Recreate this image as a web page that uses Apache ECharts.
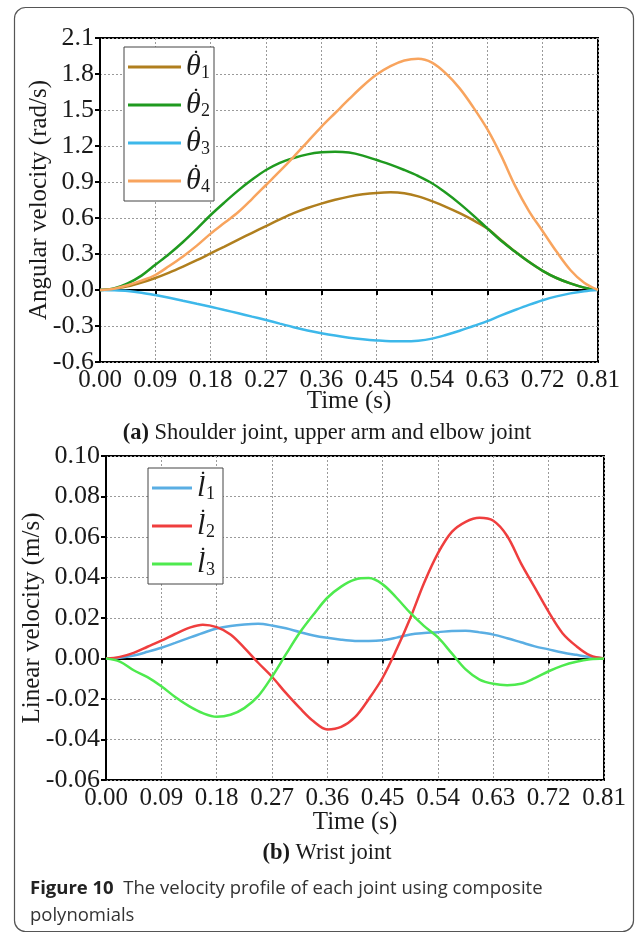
<!DOCTYPE html>
<html><head><meta charset="utf-8">
<script src="https://cdn.jsdelivr.net/npm/echarts@6/dist/echarts.min.js"></script>
<style>html,body{margin:0;padding:0;background:#fff}#c{width:640px;height:935px}</style>
</head><body><div id="c"></div>
<script>
// Time samples (s)
const time = [0, 0.0225, 0.045, 0.0675, 0.09, 0.1125, 0.135, 0.1575, 0.18, 0.2025, 0.225, 0.2475, 0.27, 0.2925, 0.315, 0.3375, 0.36, 0.3825, 0.405, 0.4275, 0.45, 0.4725, 0.495, 0.5175, 0.54, 0.5625, 0.585, 0.6075, 0.63, 0.6525, 0.675, 0.6975, 0.72, 0.7425, 0.765, 0.7875, 0.81];
// (a) Angular velocity (rad/s)
const theta1 = [0, 0.008, 0.030, 0.062, 0.100, 0.145, 0.195, 0.248, 0.305, 0.362, 0.42, 0.477, 0.533, 0.588, 0.64, 0.683, 0.72, 0.752, 0.778, 0.797, 0.809, 0.814, 0.806, 0.78, 0.74, 0.693, 0.64, 0.58, 0.512, 0.415, 0.32, 0.235, 0.16, 0.10, 0.055, 0.02, 0];
const theta2 = [0, 0.012, 0.055, 0.12, 0.21, 0.30, 0.40, 0.51, 0.625, 0.73, 0.83, 0.92, 1.0, 1.06, 1.10, 1.13, 1.147, 1.152, 1.145, 1.12, 1.083, 1.045, 1.0, 0.95, 0.89, 0.81, 0.72, 0.62, 0.514, 0.41, 0.32, 0.235, 0.16, 0.10, 0.055, 0.02, 0];
const theta3 = [0, -0.002, -0.008, -0.022, -0.042, -0.065, -0.09, -0.115, -0.14, -0.167, -0.194, -0.222, -0.25, -0.28, -0.31, -0.337, -0.36, -0.38, -0.397, -0.41, -0.42, -0.427, -0.428, -0.422, -0.405, -0.375, -0.34, -0.30, -0.26, -0.212, -0.167, -0.124, -0.085, -0.053, -0.028, -0.01, 0];
const theta4 = [0, 0.01, 0.04, 0.078, 0.125, 0.20, 0.28, 0.37, 0.47, 0.56, 0.65, 0.76, 0.875, 0.99, 1.11, 1.235, 1.36, 1.475, 1.59, 1.70, 1.795, 1.865, 1.912, 1.927, 1.895, 1.805, 1.68, 1.52, 1.34, 1.12, 0.87, 0.66, 0.49, 0.32, 0.167, 0.06, 0];
// (b) Linear velocity (m/s)
const l1 = [0, 0.0004, 0.0015, 0.0033, 0.0053, 0.0077, 0.0102, 0.0126, 0.0148, 0.0161, 0.0168, 0.0171, 0.0163, 0.0149, 0.0131, 0.0114, 0.0102, 0.0093, 0.0087, 0.0086, 0.009, 0.0103, 0.0119, 0.0126, 0.013, 0.0136, 0.0137, 0.0129, 0.0118, 0.0100, 0.008, 0.006, 0.0045, 0.003, 0.0018, 0.0007, 0];
const l2 = [0, 0.0008, 0.0028, 0.0058, 0.0088, 0.0121, 0.0151, 0.0167, 0.0155, 0.0119, 0.0053, -0.0021, -0.009, -0.017, -0.0244, -0.031, -0.035, -0.0338, -0.029, -0.020, -0.0095, 0.0044, 0.020, 0.0374, 0.052, 0.0625, 0.0675, 0.0695, 0.068, 0.0605, 0.047, 0.035, 0.023, 0.0125, 0.0061, 0.0015, 0];
const l3 = [0, -0.0015, -0.0058, -0.0092, -0.0137, -0.019, -0.0235, -0.027, -0.0288, -0.0278, -0.0245, -0.0186, -0.009, 0.002, 0.0127, 0.0217, 0.030, 0.0355, 0.039, 0.0397, 0.0366, 0.030, 0.0225, 0.016, 0.0104, 0.0025, -0.0054, -0.0104, -0.0125, -0.0132, -0.0125, -0.0097, -0.0063, -0.0035, -0.0016, -0.0004, 0];

const namesA = ['theta1', 'theta2', 'theta3', 'theta4'];
const namesB = ['l1', 'l2', 'l3'];
const colorsA = ['#B07F1E', '#1F9A1F', '#3DB8EA', '#F8A45E'];
const colorsB = ['#5AAEE3', '#EF3E3E', '#4EEA4E'];
const xTitle = 'Time (s)';
const yTitleA = 'Angular velocity (rad/s)';
const yTitleB = 'Linear velocity (m/s)';
const capA = 'Shoulder joint, upper arm and elbow joint';
const capB = 'Wrist joint';

const SERIF = '"Liberation Serif", "Times New Roman", serif';
const SANS = '"Open Sans", "Noto Sans", sans-serif';
const TXT = '#1a1a1a';
const SMOOTH = 0.35;

function pairs(arr) { return time.map((t, i) => [t, arr[i]]); }

function xAxis(gi, gap) {
  return {
    type: 'value', gridIndex: gi, min: 0, max: 0.81, interval: 0.09,
    name: xTitle, nameLocation: 'middle', nameGap: gap, nameMoveOverlap: false,
    nameTextStyle: { fontFamily: SERIF, fontSize: 25, color: TXT },
    axisLine: { show: true, lineStyle: { color: '#000', width: 2 } },
    axisTick: { show: true, inside: false, length: 5, lineStyle: { color: '#000', width: 2 } },
    axisLabel: { fontFamily: SERIF, fontSize: 25, color: TXT, margin: 6, showMinLabel: true, showMaxLabel: true, hideOverlap: false,
      formatter: v => (Math.abs(v) < 1e-9 ? 0 : v).toFixed(2) },
    splitLine: { show: true, lineStyle: { color: '#9a9a9a', type: [2, 2], width: 1 } }
  };
}
function yAxis(gi, min, max, iv, dec, name, gap) {
  return {
    type: 'value', gridIndex: gi, min: min, max: max, interval: iv,
    name: name, nameLocation: 'middle', nameGap: gap, nameRotate: 90, nameMoveOverlap: false,
    nameTextStyle: { fontFamily: SERIF, fontSize: 25, color: TXT },
    axisLine: { show: true, lineStyle: { color: '#000', width: 2 } },
    axisTick: { show: true, inside: false, length: 5, lineStyle: { color: '#000', width: 2 } },
    axisLabel: { fontFamily: SERIF, fontSize: 26, color: TXT, margin: 6, showMinLabel: true, showMaxLabel: true,
      formatter: v => (Math.abs(v) < 1e-9 ? 0 : v).toFixed(dec) },
    splitLine: { show: true, lineStyle: { color: '#9a9a9a', type: [2, 2], width: 1 } }
  };
}

const series = [];
[theta1, theta2, theta3, theta4].forEach((d, i) => series.push({
  name: namesA[i], type: 'line', xAxisIndex: 0, yAxisIndex: 0, data: pairs(d), smooth: SMOOTH,
  symbol: 'none', lineStyle: { width: 2.5, color: colorsA[i] }, itemStyle: { color: colorsA[i] }
}));
[l1, l2, l3].forEach((d, i) => series.push({
  name: namesB[i], type: 'line', xAxisIndex: 1, yAxisIndex: 1, data: pairs(d), smooth: SMOOTH,
  symbol: 'none', lineStyle: { width: 2.5, color: colorsB[i] }, itemStyle: { color: colorsB[i] }
}));

function richLeg(vw, sp) {
  return {
    v: { fontFamily: SERIF, fontStyle: 'italic', fontSize: 30, lineHeight: 30, width: vw, color: TXT },
    d: { fontFamily: SERIF, fontSize: 24, lineHeight: 10, width: 0, align: 'center', padding: [0, 0, 14, 0], color: TXT },
    s: { fontFamily: SERIF, fontSize: 18, lineHeight: 18, align: 'center', padding: [13, 0, 0, sp], color: TXT }
  };
}
function legend(names, left, top, iw, pad, sym, vw, sp) {
  return {
    orient: 'vertical', left: left, top: top, data: names, icon: 'rect',
    itemWidth: iw, itemHeight: 3, itemGap: 0, padding: pad,
    borderColor: '#444', borderWidth: 1, backgroundColor: '#fff',
    selectedMode: false,
    formatter: n => '{v|' + sym + '}{d|\u02D9}{s|' + n.replace(/\D/g, '') + '}',
    textStyle: { rich: richLeg(vw, sp) }
  };
}

const chart = echarts.init(document.getElementById('c'), null, { renderer: 'canvas' });
chart.setOption({
  backgroundColor: '#fff',
  animation: false,
  grid: [
    { left: 100, top: 38, width: 498, height: 324, show: true, borderColor: '#000', borderWidth: 2, backgroundColor: 'transparent' },
    { left: 106, top: 456, width: 498, height: 324, show: true, borderColor: '#000', borderWidth: 2, backgroundColor: 'transparent' }
  ],
  xAxis: [xAxis(0, 27), xAxis(1, 30)],
  yAxis: [
    yAxis(0, -0.6, 2.1, 0.3, 1, yTitleA, 48),
    yAxis(1, -0.06, 0.10, 0.02, 2, yTitleB, 61)
  ],
  legend: [
    legend(namesA, 124, 47, 53, [1, 4, 1, 4], 'θ', 10, 5),
    legend(namesB, 148, 468, 40, [1, 8, 1, 4], 'l', 6, 3)
  ],
  series: series,
  graphic: [
    { type: 'rect', silent: true, shape: { x: 14.5, y: 7.5, width: 619, height: 924, r: 11 },
      style: { fill: 'none', stroke: '#555', lineWidth: 1.2 } },
    { type: 'text', x: 327, y: 433, style: { text: '{b|(a)} ' + capA, align: 'center', verticalAlign: 'middle',
      font: '22.5px ' + SERIF, fill: TXT, rich: { b: { fontFamily: SERIF, fontSize: 22.5, fontWeight: 'bold', fill: TXT } } } },
    { type: 'text', x: 327, y: 853, style: { text: '{b|(b)} ' + capB, align: 'center', verticalAlign: 'middle',
      font: '22.5px ' + SERIF, fill: TXT, rich: { b: { fontFamily: SERIF, fontSize: 22.5, fontWeight: 'bold', fill: TXT } } } },
    { type: 'text', x: 30, y: 889, style: { text: '{b|Figure 10}  The velocity profile of each joint using composite', align: 'left', verticalAlign: 'middle',
      font: '18.5px ' + SANS, fill: '#333', rich: { b: { fontFamily: SANS, fontSize: 18.5, fontWeight: 'bold', fill: '#222' } } } },
    { type: 'text', x: 30, y: 916, style: { text: 'polynomials', align: 'left', verticalAlign: 'middle',
      font: '18.5px ' + SANS, fill: '#333' } }
  ]
});
</script></body></html>
